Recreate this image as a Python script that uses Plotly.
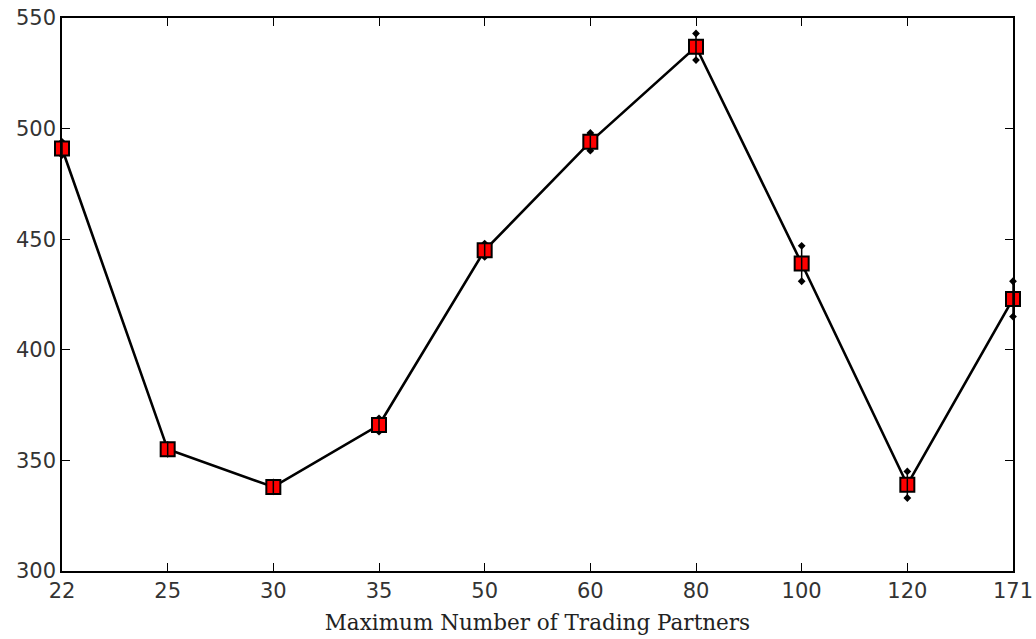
import plotly.graph_objects as go

partners = ["22", "25", "30", "35", "50", "60", "80", "100", "120", "171"]
mean_vals = [491, 355, 338, 366, 445, 494, 537, 439, 339, 423]
err_vals = [3, 2, 2, 3, 3, 4, 6, 8, 6, 8]
y_ticks = [300, 350, 400, 450, 500, 550]

idx = list(range(len(partners)))
upper = [m + e for m, e in zip(mean_vals, err_vals)]
lower = [m - e for m, e in zip(mean_vals, err_vals)]

fig = go.Figure()
fig.add_trace(go.Scatter(
    x=idx, y=mean_vals, mode="lines",
    line=dict(color="black", width=2.6),
    error_y=dict(type="data", array=err_vals, visible=True, color="black", thickness=1.5, width=0),
    cliponaxis=False, showlegend=False,
))
fig.add_trace(go.Scatter(
    x=idx + idx, y=upper + lower, mode="markers",
    marker=dict(symbol="diamond", size=6, color="black"),
    cliponaxis=False, showlegend=False,
))
fig.add_trace(go.Scatter(
    x=idx, y=mean_vals, mode="markers",
    marker=dict(symbol="square", size=14, color="#ff0000", line=dict(color="black", width=2)),
    cliponaxis=False, showlegend=False,
))
fig.add_trace(go.Scatter(
    x=idx, y=mean_vals, mode="markers",
    marker=dict(symbol="line-ns", size=9, color="black", line=dict(color="black", width=1.5)),
    cliponaxis=False, showlegend=False,
))

axis_common = dict(
    showline=True, linecolor="black", linewidth=1.5, mirror="ticks",
    ticks="inside", ticklen=8, tickwidth=1.3, tickcolor="black",
    showgrid=False, zeroline=False, automargin=False,
    ticklabeloverflow="allow",
    tickfont=dict(family="DejaVu Sans", size=21, color="#333333"),
)

fig.update_layout(
    width=1036, height=639,
    margin=dict(l=62, r=23, t=18, b=68),
    plot_bgcolor="white", paper_bgcolor="white",
    xaxis=dict(
        range=[0, 9], tickmode="array", tickvals=idx, ticktext=partners,
        title=dict(text="Maximum Number of Trading Partners",
                   font=dict(family="DejaVu Serif", size=21.5, color="#222222"), standoff=13),
        **axis_common,
    ),
    yaxis=dict(range=[300, 550], tickmode="array", tickvals=y_ticks, **axis_common),
)

fig.write_html("out.html", config={"displayModeBar": False},
               post_script="document.body.style.margin='0';document.body.style.overflow='hidden';")
